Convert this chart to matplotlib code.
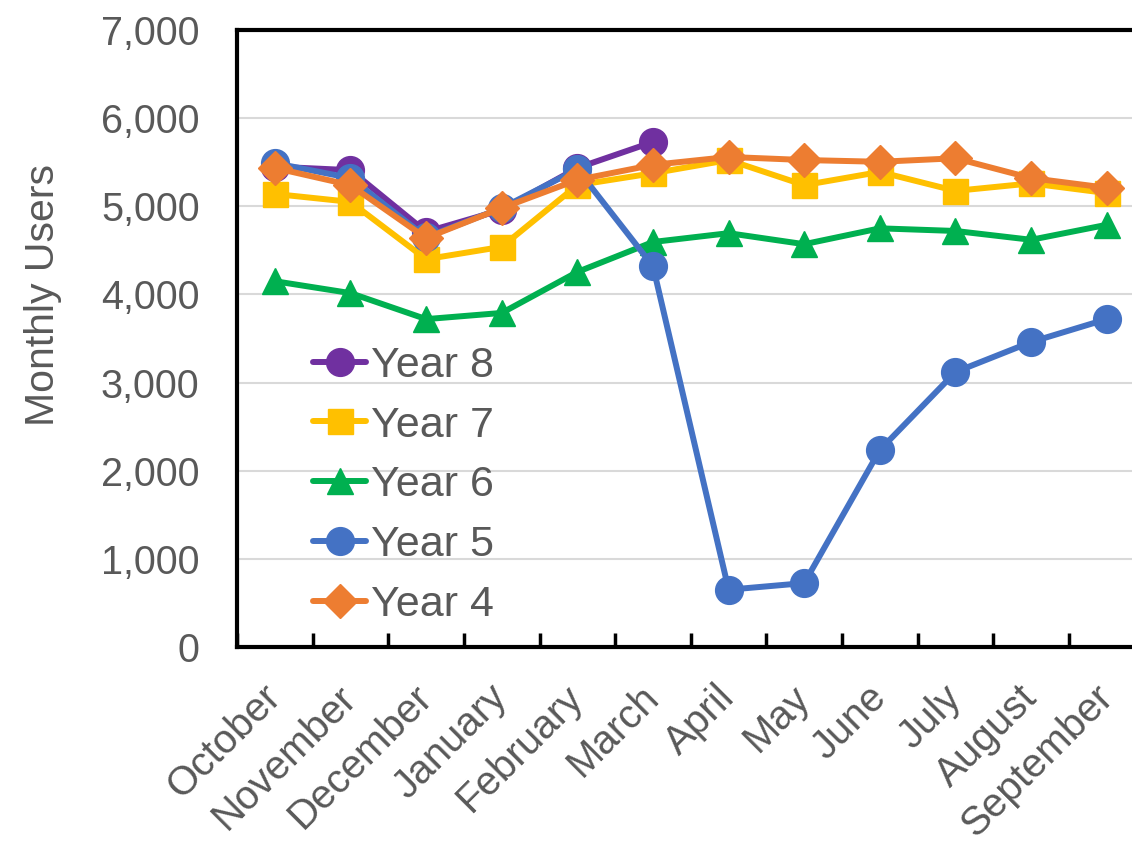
import numpy as np
from matplotlib import pyplot as plt
from matplotlib.ticker import FuncFormatter, FixedLocator

months = ['October', 'November', 'December', 'January', 'February', 'March',
          'April', 'May', 'June', 'July', 'August', 'September']

year_8 = [5450, 5410, 4710, 4960, 5435, 5730]
year_7 = [5140, 5050, 4400, 4540, 5240, 5375, 5525, 5240, 5390, 5175, 5260, 5150]
year_6 = [4150, 4015, 3720, 3790, 4255, 4595, 4695, 4570, 4750, 4720, 4620, 4790]
year_5 = [5490, 5320, 4650, 4980, 5420, 4320, 650, 725, 2235, 3120, 3460, 3720]
year_4 = [5435, 5240, 4640, 4980, 5300, 5470, 5560, 5525, 5505, 5545, 5320, 5210]

series = [
    ('Year 8', year_8, '#7030A0', 'o', 20),
    ('Year 7', year_7, '#FFC000', 's', 18),
    ('Year 6', year_6, '#00B050', '^', 19),
    ('Year 5', year_5, '#4472C4', 'o', 20),
    ('Year 4', year_4, '#ED7D31', 'D', 17),
]

grey = '#595959'
plt.rcParams['font.family'] = ['Liberation Sans', 'DejaVu Sans']


def main():
    fig = plt.figure(figsize=(11.32, 8.41), dpi=100)
    ax = fig.add_axes([0.2094, 0.2307, 0.8017, 0.7336])

    for name, vals, color, marker, ms in series:
        x = np.arange(len(vals))
        ax.plot(x, vals, color=color, lw=4.3, marker=marker, ms=ms,
                label=name, solid_capstyle='round', solid_joinstyle='round')

    ax.set_xlim(-0.5, len(months) - 0.5)
    ax.set_ylim(0, 7000)
    ax.set_yticks(np.arange(0, 7001, 1000))
    ax.yaxis.set_major_formatter(FuncFormatter(lambda v, p: f'{int(v):,}'))
    ax.grid(axis='y', color='#d9d9d9', lw=1.5)
    ax.set_axisbelow(True)

    ax.set_xticks(np.arange(len(months)))
    ax.set_xticklabels(months, rotation=45, ha='right', va='center',
                       rotation_mode='anchor')
    ax.xaxis.set_minor_locator(FixedLocator(np.arange(len(months) + 1) - 0.5))
    ax.tick_params(axis='x', which='major', length=0, pad=32,
                   labelsize=29, labelcolor=grey)
    ax.tick_params(axis='x', which='minor', direction='in', length=10,
                   width=2.5, color='black')
    ax.tick_params(axis='y', length=0, pad=27, labelsize=28.5, labelcolor=grey)

    for sp in ax.spines.values():
        sp.set_color('black')
        sp.set_linewidth(3)

    ax.set_ylabel('Monthly Users', fontsize=29.5, color=grey)
    ax.yaxis.set_label_coords(-0.1924, 0.5705)

    ax.legend(loc='center left', bbox_to_anchor=(0.0836, 0.262), frameon=False,
              fontsize=31, labelcolor=grey, borderpad=0, borderaxespad=0,
              handlelength=1.24, handletextpad=0.12, labelspacing=0.46)

    fig.savefig('out.png', dpi=100)
    plt.close()


if __name__ == '__main__':
    main()
